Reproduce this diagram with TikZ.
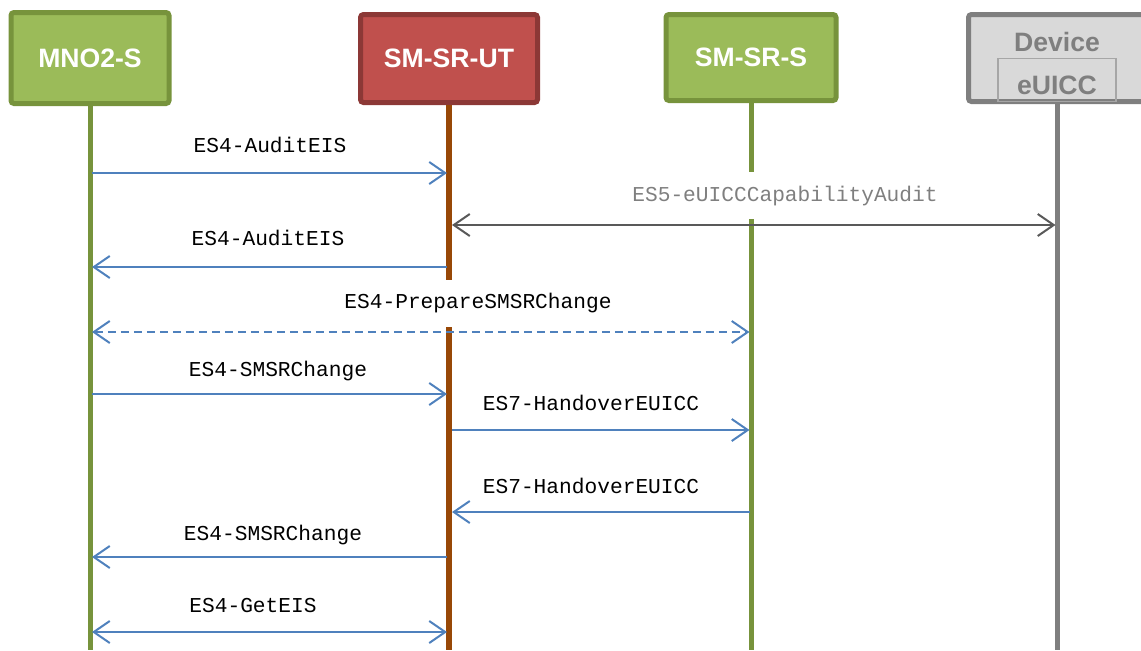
\documentclass[tikz,border=0pt]{standalone}
\usepackage{fontspec}
\setmainfont{Liberation Sans}
\newfontfamily\msgfont{Liberation Mono}
\usetikzlibrary{arrows.meta}
\definecolor{actgreen}{HTML}{9BBB59}
\definecolor{actgreenline}{HTML}{77933C}
\definecolor{actred}{HTML}{C0504D}
\definecolor{actredline}{HTML}{8C3836}
\definecolor{utbrown}{HTML}{984807}
\definecolor{devfill}{HTML}{D9D9D9}
\definecolor{devline}{HTML}{7F7F7F}
\definecolor{euiccline}{HTML}{A6A6A6}
\definecolor{msgblue}{HTML}{4F81BD}
\definecolor{msggray}{HTML}{595959}
\tikzset{
  actorbox/.style={draw, line width=2.5pt, rounded corners=1.5pt, text=white, font=\bfseries\fontsize{13.3}{15}\selectfont},
  greenbox/.style={actorbox, fill=actgreen, draw=actgreenline},
  redbox/.style={actorbox, fill=actred, draw=actredline, minimum width=88.5pt, minimum height=44pt},
  devbox/.style={actorbox, fill=devfill, draw=devline, minimum width=88.5pt, minimum height=43.5pt},
  euiccbox/.style={draw=euiccline, line width=0.8pt, minimum width=59pt, minimum height=21.5pt, text=devline, text height=14.3pt, text depth=0pt, font=\bfseries\fontsize{13.3}{15}\selectfont},
  lifeline/.style={line width=2.5pt},
  msgarrow/.style={draw=msgblue, line width=1pt, -{Straight Barb[length=8pt, width=11pt]}},
  msgboth/.style={msgarrow, {Straight Barb[length=8pt, width=11pt]}-{Straight Barb[length=8pt, width=11pt]}},
  msglabel/.style={font=\msgfont\fontsize{10.6}{12}\selectfont, inner sep=1pt},
}

\begin{document}
\begin{tikzpicture}[x=0.5pt, y=-0.5pt]
  \useasboundingbox (0,0) rectangle (1141,650);

  % actors
  \node[greenbox, minimum width=79pt, minimum height=45.5pt] (mno) at (90,58) {MNO2-S};
  \node[redbox] (smsrut) at (449,58.5) {SM-SR-UT};
  \node[greenbox, minimum width=85pt, minimum height=43pt] (smsrs) at (751,57.5) {SM-SR-S};
  \node[devbox] (dev) at (1057,58) {};
  \node[font=\bfseries\fontsize{13.3}{15}\selectfont, text=devline] (devlbl) at (1057,42) {Device};
  \node[euiccbox] (euicc) at (1057,80) {eUICC};

  % points on the lifelines, one row per message
  \foreach \y [count=\i] in {173,225,267,332,394,430,512,557,632} {
    \coordinate (m\i) at (92,\y);
    \coordinate (u\i) at (447,\y);
    \coordinate (ur\i) at (452,\y);
    \coordinate (s\i) at (749.5,\y);
    \coordinate (d\i) at (1055.5,\y);
  }
  \coordinate (mend) at (90,650);
  \coordinate (uend) at (449,650);
  \coordinate (send) at (751,650);
  \coordinate (dend) at (1057,650);
  \coordinate (ubrk) at (449,280);
  \coordinate (ures) at (449,327);
  \coordinate (sbrk) at (751,172);
  \coordinate (sres) at (751,219);

  % lifelines
  \draw[lifeline, actgreenline] (mno.south) -- (mend);
  \draw[lifeline, line width=3pt, utbrown] (smsrut.south) -- (ubrk);
  \draw[lifeline, line width=3pt, utbrown] (ures) -- (uend);
  \draw[lifeline, actgreenline] (smsrs.south) -- (sbrk);
  \draw[lifeline, actgreenline] (sres) -- (send);
  \draw[lifeline, devline] (dev.south) -- (dend);

  % messages
  \draw[msgarrow] (m1) -- (u1);
  \node[msglabel] (l1) at (270,145) {ES4-AuditEIS};

  \draw[msgboth, draw=msggray] (ur2) -- (d2);
  \node[msglabel, text=devline] (l2) at (785,196) {ES5-eUICCCapabilityAudit};

  \draw[msgarrow] (u3) -- (m3);
  \node[msglabel] (l3) at (268,238) {ES4-AuditEIS};

  \draw[msgboth, dash pattern=on 4pt off 2.5pt] (m4) -- (s4);
  \node[msglabel] (l4) at (478,303) {ES4-PrepareSMSRChange};

  \draw[msgarrow] (m5) -- (u5);
  \node[msglabel] (l5) at (278,371) {ES4-SMSRChange};

  \draw[msgarrow] (ur6) -- (s6);
  \node[msglabel] (l6) at (591,403) {ES7-HandoverEUICC};

  \draw[msgarrow] (s7) -- (ur7);
  \node[msglabel] (l7) at (591,486) {ES7-HandoverEUICC};

  \draw[msgarrow] (u8) -- (m8);
  \node[msglabel] (l8) at (273,535) {ES4-SMSRChange};

  \draw[msgboth] (m9) -- (u9);
  \node[msglabel] (l9) at (253,605) {ES4-GetEIS};
\end{tikzpicture}
\end{document}
